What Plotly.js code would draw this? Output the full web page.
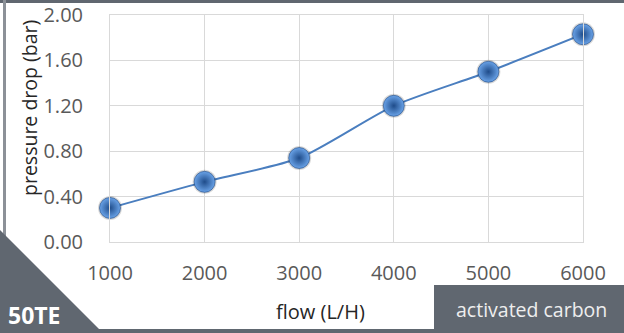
<!DOCTYPE html>
<html>
<head>
<meta charset="utf-8">
<script src="https://cdn.plot.ly/plotly-3.0.1.min.js"></script>
<style>html,body{margin:0;padding:0;background:#fff;}#chart{width:624px;height:333px;}</style>
</head>
<body>
<div id="chart"></div>
<script>
const flow = [1000, 2000, 3000, 4000, 5000, 6000];
const pressureDrop = [0.30, 0.53, 0.74, 1.20, 1.50, 1.83];
const yTicks = [0, 0.4, 0.8, 1.2, 1.6, 2.0];
const yTickLabels = ['0.00', '0.40', '0.80', '1.20', '1.60', '2.00'];
const xTitle = 'flow (L/H)';
const yTitle = 'pressure drop (bar)';
const cornerLabel = '50TE';
const boxLabel = 'activated carbon';

const W = 624, H = 333;
const frame = 'rgb(96,103,112)';
const px = v => v / W;
const py = v => 1 - v / H;

const traces = [
  {
    x: flow, y: pressureDrop, type: 'scatter', mode: 'lines',
    line: {color: '#4a7ebf', width: 2, shape: 'spline', smoothing: 0.7},
    hoverinfo: 'skip', showlegend: false, cliponaxis: false
  },
  {
    x: flow, y: pressureDrop, type: 'scatter', mode: 'markers',
    marker: {size: 24, color: 'rgba(0,0,0,0.15)', line: {width: 0}},
    showlegend: false, hoverinfo: 'skip', cliponaxis: false
  },
  {
    x: flow, y: pressureDrop, type: 'scatter', mode: 'markers',
    marker: {size: 21, color: '#6aa3e8', gradient: {type: 'radial', color: '#1f4c8a'},
             line: {width: 0.6, color: '#1b4580'}},
    showlegend: false, cliponaxis: false
  }
];

const layout = {
  width: W, height: H,
  margin: {l: 0, r: 0, t: 0, b: 0},
  paper_bgcolor: '#fff', plot_bgcolor: '#fff',
  font: {family: 'Open Sans, Liberation Sans, sans-serif'},
  xaxis: {
    domain: [px(110), px(583)],
    range: [1000, 6000],
    tickvals: flow, ticktext: flow.map(String),
    showgrid: true, gridcolor: '#d9d9d9', gridwidth: 1,
    zeroline: false, showline: true, linecolor: '#d9d9d9', mirror: true,
    ticks: 'outside', ticklen: 13, tickcolor: 'rgba(0,0,0,0)',
    tickfont: {size: 20, color: '#595959', family: 'Open Sans, sans-serif'},
    automargin: false
  },
  yaxis: {
    domain: [py(242), py(15)],
    range: [0, 2.0],
    tickvals: yTicks, ticktext: yTickLabels,
    showgrid: true, gridcolor: '#d9d9d9', gridwidth: 1,
    zeroline: false, showline: true, linecolor: '#d9d9d9', mirror: true,
    ticks: 'outside', ticklen: 22, tickcolor: 'rgba(0,0,0,0)',
    tickfont: {size: 20, color: '#595959', family: 'Open Sans, sans-serif'},
    automargin: false
  },
  shapes: [
    {type: 'rect', xref: 'paper', yref: 'paper', x0: 0, x1: 1, y0: py(0), y1: py(3), fillcolor: frame, line: {width: 0}},
    {type: 'rect', xref: 'paper', yref: 'paper', x0: px(3), x1: px(6), y0: py(0), y1: py(333), fillcolor: 'rgb(140,145,152)', line: {width: 0}},
    {type: 'rect', xref: 'paper', yref: 'paper', x0: 0, x1: px(434), y0: py(333), y1: py(329), fillcolor: frame, line: {width: 0}},
    {type: 'path', xref: 'paper', yref: 'paper',
     path: `M 0 ${py(230)} L ${px(103)} ${py(333)} L 0 ${py(333)} Z`,
     fillcolor: frame, line: {width: 0}},
    {type: 'rect', xref: 'paper', yref: 'paper', x0: px(434), x1: 1, y0: py(333), y1: py(285), fillcolor: frame, line: {width: 0}}
  ],
  annotations: [
    {text: yTitle, xref: 'paper', yref: 'paper', x: px(29), y: py(108), textangle: -90,
     showarrow: false, xanchor: 'center', yanchor: 'middle',
     font: {size: 19.5, color: '#262626', family: 'Open Sans, sans-serif'}},
    {text: xTitle, xref: 'paper', yref: 'paper', x: px(321), y: py(311),
     showarrow: false, xanchor: 'center', yanchor: 'middle',
     font: {size: 20, color: '#262626', family: 'Open Sans, sans-serif'}},
    {text: '<b>' + cornerLabel + '</b>', xref: 'paper', yref: 'paper', x: px(6), y: py(315),
     showarrow: false, xanchor: 'left', yanchor: 'middle',
     font: {size: 23, color: '#ffffff', family: 'Open Sans, sans-serif'}},
    {text: boxLabel, xref: 'paper', yref: 'paper', x: px(531), y: py(309),
     showarrow: false, xanchor: 'center', yanchor: 'middle',
     font: {size: 19.5, color: '#eeeeee', family: 'Open Sans, sans-serif'}}
  ]
};

Plotly.newPlot('chart', traces, layout, {displayModeBar: false, staticPlot: true});
</script>
</body>
</html>
